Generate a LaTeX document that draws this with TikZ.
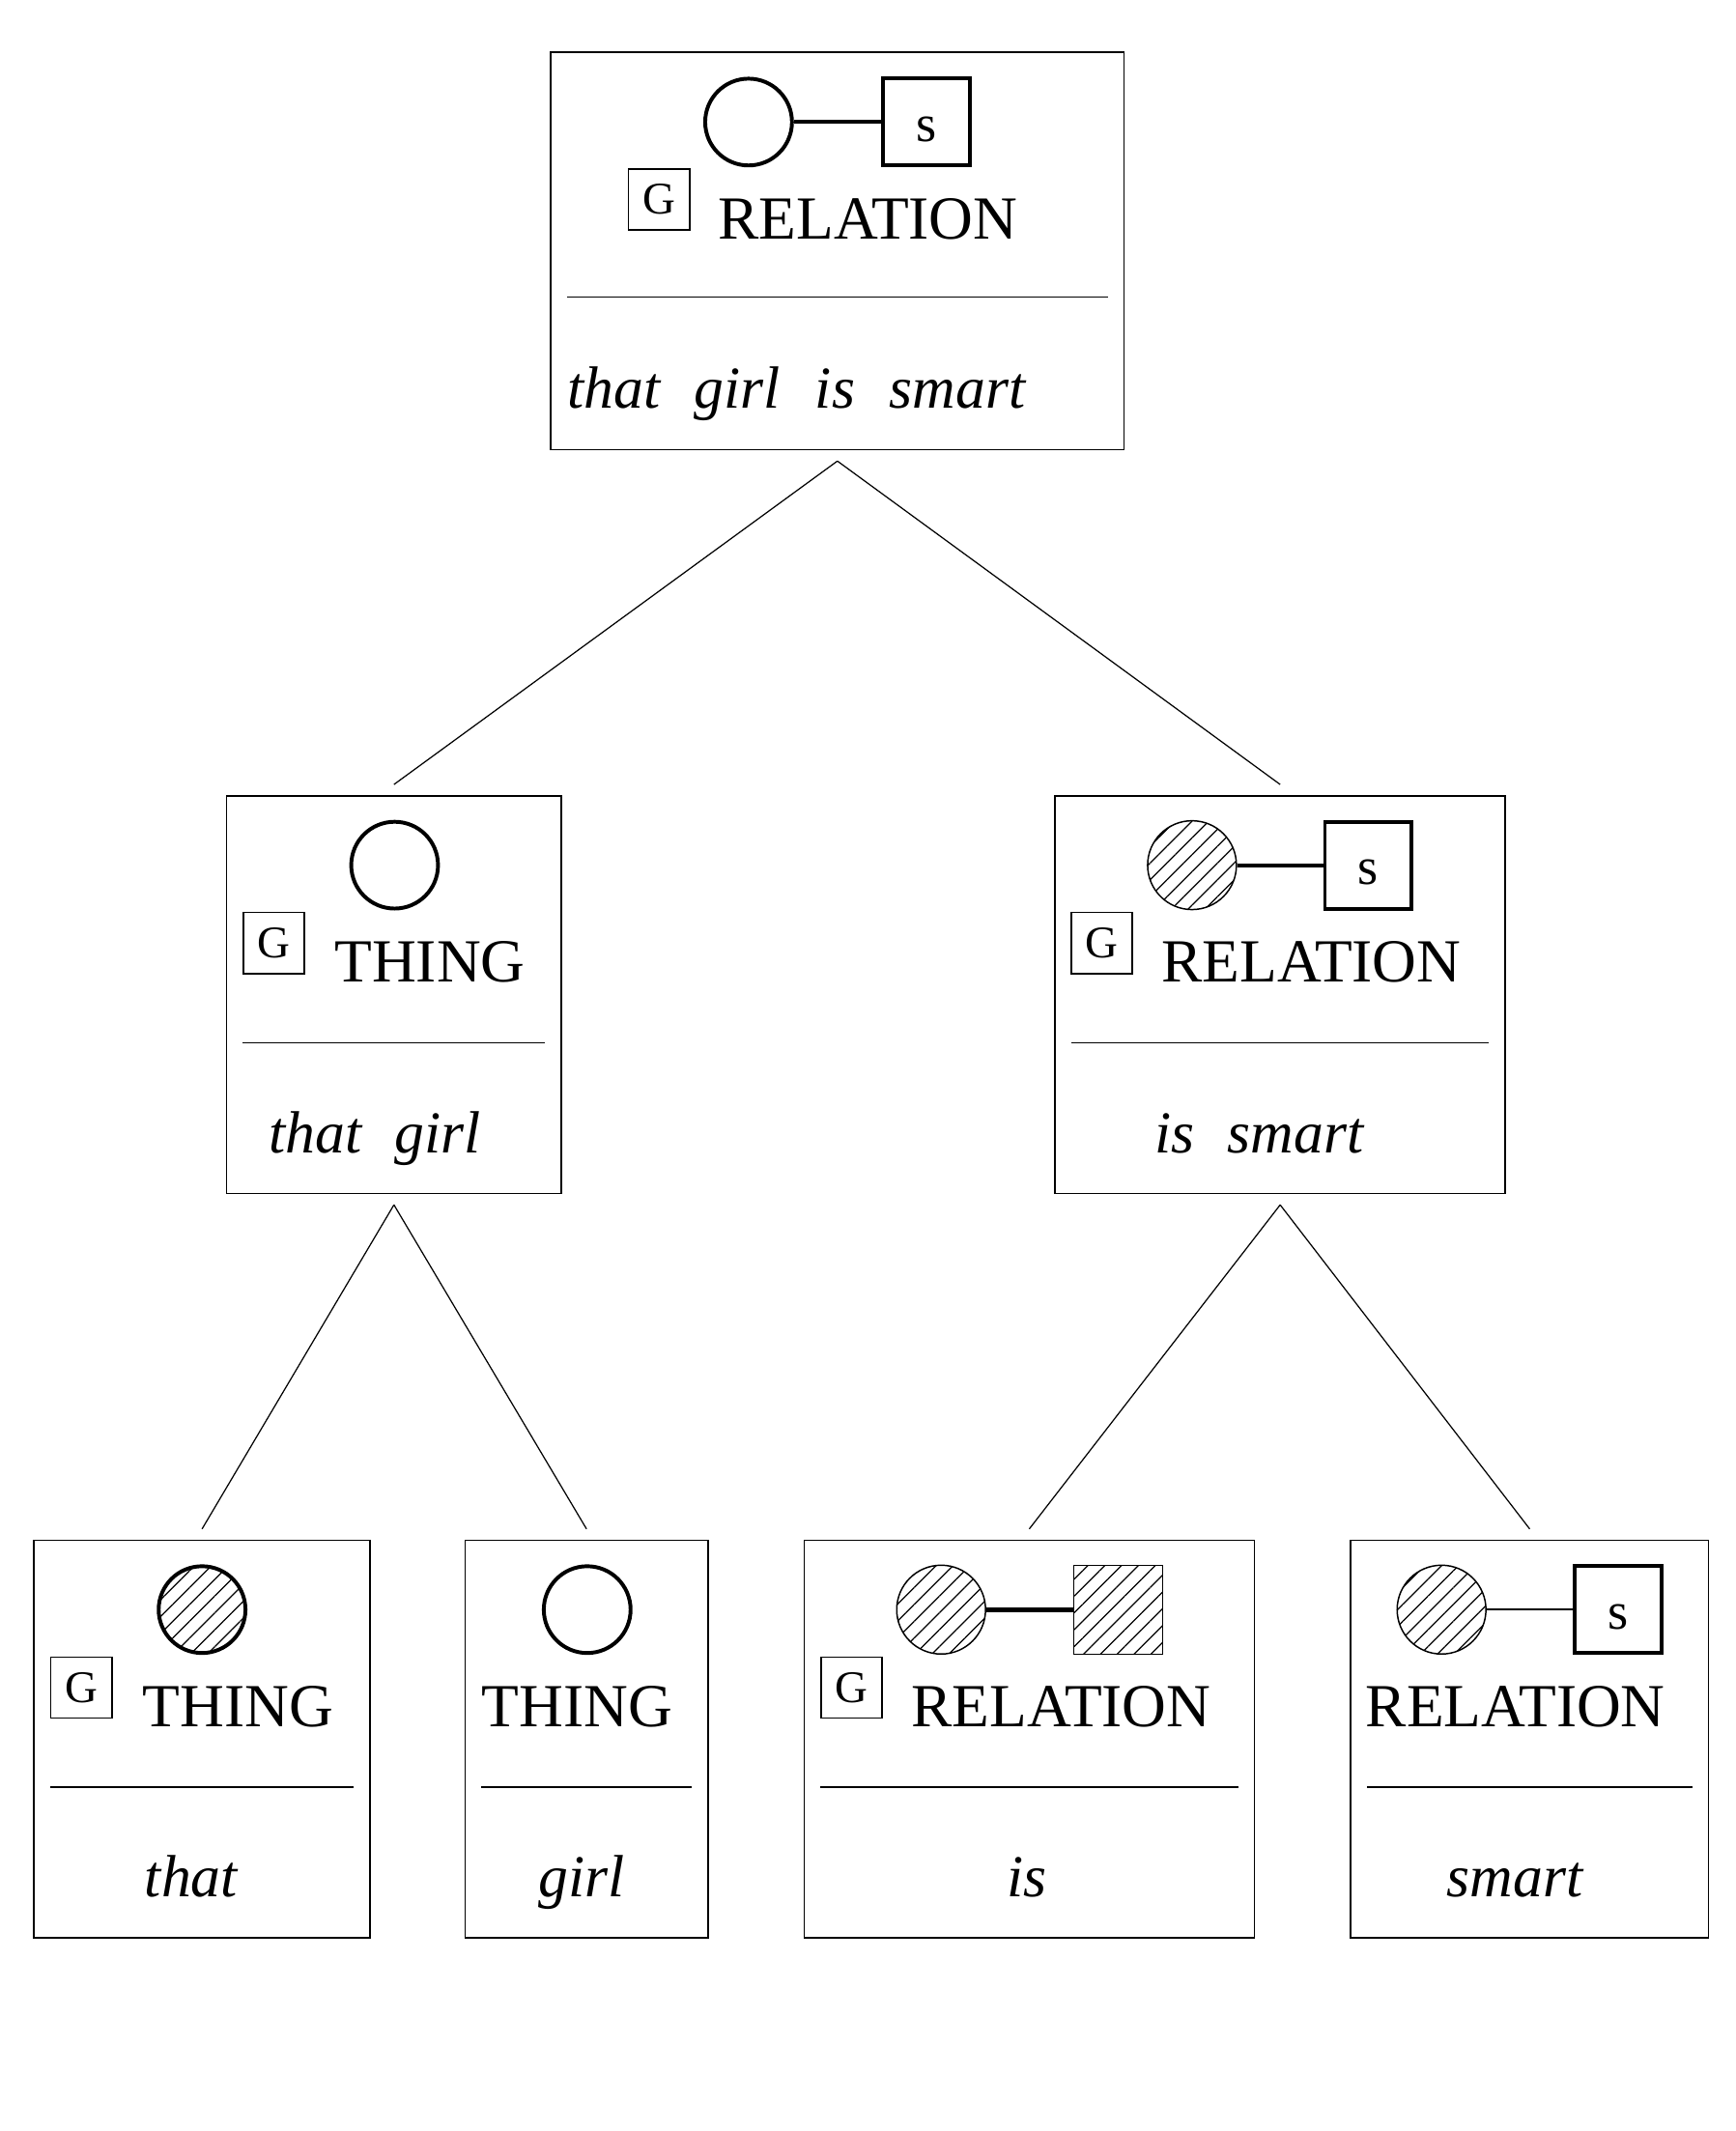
\documentclass[tikz,border=0pt]{standalone}
\usepackage{fontspec}
\setmainfont{Liberation Serif}
\usetikzlibrary{patterns.meta}
\begin{document}
\begin{tikzpicture}[
		box/.style={draw=black, line width=0.6pt, minimum height=5.86cm, inner sep=0pt, outer ysep=0.17cm},
		gbox/.style={draw=black, line width=0.6pt, minimum size=0.9cm, inner sep=0pt, font=\fontsize{19}{22}\selectfont},
		hatch/.style={pattern={Lines[angle=45,distance=5pt,line width=0.5pt]}},
		ring/.style={circle, draw=black, line width=1.6pt, minimum size=1.28cm, inner sep=0pt},
		hring/.style={circle, draw=black, line width=0.6pt, minimum size=1.31cm, inner sep=0pt, hatch},
		sbox/.style={draw=black, line width=1.6pt, minimum size=1.28cm, inner sep=0pt, text height=0.58cm, font=\fontsize{22}{26}\selectfont},
		hsbox/.style={draw=black, line width=0.6pt, minimum size=1.31cm, inner sep=0pt, hatch},
		cat/.style={anchor=base, inner sep=0pt, font=\fontsize{25.7}{30}\selectfont},
		word/.style={anchor=base, inner sep=0pt, font=\fontsize{25}{30}\selectfont\itshape},
		sep/.style={draw=black, line width=0.7pt},
		tree/.style={draw=black, line width=0.5pt},
		]
		\useasboundingbox (0,0) rectangle (25.60,-31.43);
		\node[box, minimum width=8.46cm] (t) at (12.35,-3.70) {};
		\node[ring] (t-c) at (11.04,-1.80) {};
		\node[sbox] (t-s) at (13.66,-1.80) {s};
		\draw[line width=1.6pt] (t-c) -- (t-s);
		\node[gbox] (t-g) at (9.72,-2.94) {G};
		\node[cat] (t-l) at (12.80,-3.52) {RELATION};
		\draw[sep] (8.36,-4.38) -- (16.34,-4.38);
		\node[word, anchor=base west] (t-w) at (8.36,-6.02) {that\hspace{0.58em}girl\hspace{0.58em}is\hspace{0.58em}smart};
		\node[box, minimum width=4.94cm] (l) at (5.81,-14.67) {};
		\node[ring] (l-c) at (5.82,-12.76) {};
		\node[gbox] (l-g) at (4.04,-13.91) {G};
		\node[cat] (l-l) at (6.34,-14.48) {THING};
		\draw[sep] (3.58,-15.38) -- (8.04,-15.38);
		\node[word] (l-w) at (5.53,-17.00) {that\hspace{0.55em}girl};
		\node[box, minimum width=6.64cm] (r) at (18.88,-14.67) {};
		\node[hring] (r-c) at (17.58,-12.76) {};
		\node[sbox] (r-s) at (20.18,-12.76) {s};
		\draw[line width=1.6pt] (r-c) -- (r-s);
		\node[gbox] (r-g) at (16.25,-13.91) {G};
		\node[cat] (r-l) at (19.34,-14.48) {RELATION};
		\draw[sep] (15.80,-15.38) -- (21.96,-15.38);
		\node[word] (r-w) at (18.57,-17.00) {is\hspace{0.55em}smart};
		\node[box, minimum width=4.96cm] (a) at (2.98,-25.65) {};
		\node[ring, hatch] (a-c) at (2.98,-23.74) {};
		\node[gbox] (a-g) at (1.20,-24.89) {G};
		\node[cat] (a-l) at (3.51,-25.46) {THING};
		\draw[sep] (0.74,-26.36) -- (5.22,-26.36);
		\node[word] (a-w) at (2.82,-27.98) {that};
		\node[box, minimum width=3.58cm] (b) at (8.65,-25.65) {};
		\node[ring] (b-c) at (8.66,-23.74) {};
		\node[cat] (b-l) at (8.51,-25.46) {THING};
		\draw[sep] (7.10,-26.36) -- (10.20,-26.36);
		\node[word] (b-w) at (8.58,-27.98) {girl};
		\node[box, minimum width=6.64cm] (c) at (15.18,-25.65) {};
		\node[hring] (c-c) at (13.88,-23.74) {};
		\node[hsbox] (c-s) at (16.49,-23.74) {};
		\draw[line width=2pt] (c-c) -- (c-s);
		\node[gbox] (c-g) at (12.56,-24.89) {G};
		\node[cat] (c-l) at (15.65,-25.46) {RELATION};
		\draw[sep] (12.10,-26.36) -- (18.26,-26.36);
		\node[word] (c-w) at (15.14,-27.98) {is};
		\node[box, minimum width=5.28cm] (d) at (22.56,-25.65) {};
		\node[hring] (d-c) at (21.26,-23.74) {};
		\node[sbox] (d-s) at (23.86,-23.74) {s};
		\draw[line width=0.8pt] (d-c) -- (d-s);
		\node[cat] (d-l) at (22.35,-25.46) {RELATION};
		\draw[sep] (20.16,-26.36) -- (24.96,-26.36);
		\node[word] (d-w) at (22.34,-27.98) {smart};
		\draw[tree] (t.south) -- (l.north);
		\draw[tree] (t.south) -- (r.north);
		\draw[tree] (l.south) -- (a.north);
		\draw[tree] (l.south) -- (b.north);
		\draw[tree] (r.south) -- (c.north);
		\draw[tree] (r.south) -- (d.north);
	\end{tikzpicture}
\end{document}
